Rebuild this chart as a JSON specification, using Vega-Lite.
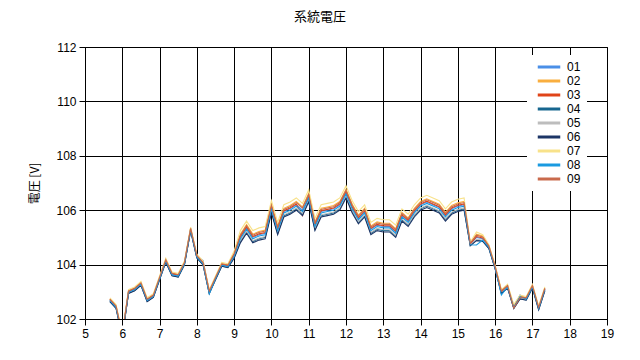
{
  "$schema": "https://vega.github.io/schema/vega-lite/v6.json",
  "autosize": {"type": "none"},
  "padding": {"left": 85, "top": 47, "right": 33, "bottom": 41},
  "width": 522,
  "height": 272,
  "background": "white",
  "title": {"text": "系統電圧", "font": "Noto Sans CJK JP", "fontSize": 13, "fontWeight": "normal", "color": "black", "dx": -26, "offset": 17},
  "config": {
    "view": {"stroke": "black", "strokeWidth": 1},
    "axis": {"gridColor": "black", "gridOpacity": 1, "gridWidth": 1, "domainColor": "black", "tickColor": "black", "tickSize": 6, "labelColor": "black", "labelFont": "Liberation Sans", "labelFontSize": 12, "titleFont": "Noto Sans CJK JP", "titleFontSize": 12, "titleFontWeight": "normal", "titleColor": "black"}
  },
  "data": {"values": [
    {"t":5.667,"01":102.7,"02":102.74,"03":102.71,"04":102.65,"05":102.66,"06":102.64,"07":102.78,"08":102.68,"09":102.73},
    {"t":5.833,"01":102.45,"02":102.49,"03":102.46,"04":102.4,"05":102.41,"06":102.39,"07":102.53,"08":102.43,"09":102.48},
    {"t":6.0,"01":101.4,"02":101.44,"03":101.41,"04":101.35,"05":101.36,"06":101.34,"07":101.48,"08":101.38,"09":101.43},
    {"t":6.167,"01":103.0,"02":103.04,"03":103.01,"04":102.95,"05":102.96,"06":102.94,"07":103.08,"08":102.98,"09":103.03},
    {"t":6.333,"01":103.1,"02":103.14,"03":103.11,"04":103.05,"05":103.06,"06":103.04,"07":103.18,"08":103.08,"09":103.13},
    {"t":6.5,"01":103.3,"02":103.34,"03":103.31,"04":103.25,"05":103.26,"06":103.24,"07":103.38,"08":103.28,"09":103.33},
    {"t":6.667,"01":102.7,"02":102.74,"03":102.71,"04":102.65,"05":102.66,"06":102.64,"07":102.78,"08":102.68,"09":102.73},
    {"t":6.833,"01":102.85,"02":102.89,"03":102.86,"04":102.8,"05":102.81,"06":102.79,"07":102.93,"08":102.83,"09":102.88},
    {"t":7.0,"01":103.5,"02":103.54,"03":103.51,"04":103.45,"05":103.46,"06":103.44,"07":103.58,"08":103.48,"09":103.53},
    {"t":7.167,"01":104.15,"02":104.19,"03":104.16,"04":104.1,"05":104.11,"06":104.09,"07":104.23,"08":104.13,"09":104.18},
    {"t":7.333,"01":103.65,"02":103.69,"03":103.66,"04":103.6,"05":103.61,"06":103.59,"07":103.73,"08":103.63,"09":103.68},
    {"t":7.5,"01":103.6,"02":103.64,"03":103.61,"04":103.55,"05":103.56,"06":103.54,"07":103.68,"08":103.58,"09":103.63},
    {"t":7.667,"01":104.05,"02":104.09,"03":104.06,"04":104.0,"05":104.01,"06":103.99,"07":104.13,"08":104.03,"09":104.08},
    {"t":7.833,"01":105.3,"02":105.34,"03":105.31,"04":105.25,"05":105.26,"06":105.24,"07":105.38,"08":105.28,"09":105.33},
    {"t":8.0,"01":104.3,"02":104.34,"03":104.31,"04":104.25,"05":104.26,"06":104.24,"07":104.38,"08":104.28,"09":104.33},
    {"t":8.167,"01":104.15,"02":104.09,"03":104.06,"04":104.0,"05":104.01,"06":103.99,"07":104.13,"08":104.03,"09":104.08},
    {"t":8.333,"01":103.0,"02":103.04,"03":103.01,"04":102.95,"05":102.96,"06":102.94,"07":103.08,"08":102.92,"09":103.03},
    {"t":8.5,"01":103.5,"02":103.54,"03":103.51,"04":103.45,"05":103.46,"06":103.44,"07":103.58,"08":103.48,"09":103.53},
    {"t":8.667,"01":104.0,"02":104.04,"03":104.01,"04":103.95,"05":103.96,"06":103.94,"07":104.08,"08":103.98,"09":104.03},
    {"t":8.833,"01":103.95,"02":103.99,"03":103.96,"04":103.9,"05":103.91,"06":103.89,"07":104.03,"08":103.93,"09":103.98},
    {"t":9.0,"01":104.35,"02":104.42,"03":104.37,"04":104.26,"05":104.28,"06":104.23,"07":104.5,"08":104.32,"09":104.4},
    {"t":9.167,"01":105.0,"02":105.12,"03":105.03,"04":104.85,"05":104.88,"06":104.8,"07":105.25,"08":104.95,"09":105.08},
    {"t":9.333,"01":105.35,"02":105.47,"03":105.38,"04":105.2,"05":105.23,"06":105.15,"07":105.6,"08":105.3,"09":105.43},
    {"t":9.5,"01":105.0,"02":105.12,"03":105.03,"04":104.85,"05":104.88,"06":104.8,"07":105.25,"08":104.95,"09":105.08},
    {"t":9.667,"01":105.1,"02":105.22,"03":105.13,"04":104.95,"05":104.98,"06":104.9,"07":105.35,"08":105.05,"09":105.18},
    {"t":9.833,"01":105.15,"02":105.27,"03":105.18,"04":105.0,"05":105.03,"06":104.95,"07":105.4,"08":105.1,"09":105.23},
    {"t":10.0,"01":106.1,"02":106.22,"03":106.13,"04":105.95,"05":105.98,"06":105.9,"07":106.35,"08":106.05,"09":106.18},
    {"t":10.167,"01":105.3,"02":105.42,"03":105.33,"04":105.15,"05":105.18,"06":105.1,"07":105.55,"08":105.25,"09":105.38},
    {"t":10.333,"01":105.95,"02":106.07,"03":105.98,"04":105.8,"05":105.83,"06":105.75,"07":106.2,"08":105.9,"09":106.03},
    {"t":10.5,"01":106.05,"02":106.17,"03":106.08,"04":105.9,"05":105.93,"06":105.85,"07":106.3,"08":106.0,"09":106.13},
    {"t":10.667,"01":106.2,"02":106.32,"03":106.23,"04":106.05,"05":106.08,"06":106.0,"07":106.45,"08":106.15,"09":106.28},
    {"t":10.833,"01":106.0,"02":106.12,"03":105.8,"04":105.85,"05":105.88,"06":105.8,"07":106.25,"08":105.95,"09":106.08},
    {"t":11.0,"01":106.5,"02":106.62,"03":106.53,"04":106.35,"05":106.38,"06":106.3,"07":106.75,"08":106.45,"09":106.58},
    {"t":11.167,"01":105.45,"02":105.57,"03":105.48,"04":105.3,"05":105.33,"06":105.25,"07":105.7,"08":105.4,"09":105.53},
    {"t":11.333,"01":105.95,"02":106.07,"03":105.98,"04":105.8,"05":105.83,"06":105.75,"07":106.2,"08":105.9,"09":106.03},
    {"t":11.5,"01":106.0,"02":106.12,"03":106.03,"04":105.85,"05":105.88,"06":105.8,"07":106.25,"08":105.95,"09":106.08},
    {"t":11.667,"01":106.05,"02":106.17,"03":106.08,"04":105.9,"05":105.93,"06":105.85,"07":106.3,"08":106.0,"09":106.13},
    {"t":11.833,"01":106.2,"02":106.32,"03":106.23,"04":106.05,"05":106.08,"06":106.0,"07":106.45,"08":106.15,"09":106.28},
    {"t":12.0,"01":106.65,"02":106.77,"03":106.68,"04":106.5,"05":106.53,"06":106.45,"07":106.9,"08":106.6,"09":106.73},
    {"t":12.167,"01":106.1,"02":106.22,"03":106.13,"04":105.95,"05":105.98,"06":105.9,"07":106.35,"08":106.05,"09":106.18},
    {"t":12.333,"01":105.7,"02":105.82,"03":105.73,"04":105.55,"05":105.58,"06":105.5,"07":105.95,"08":105.65,"09":105.78},
    {"t":12.5,"01":105.95,"02":106.07,"03":105.98,"04":105.8,"05":105.83,"06":105.75,"07":106.2,"08":105.9,"09":106.03},
    {"t":12.667,"01":105.3,"02":105.42,"03":105.33,"04":105.15,"05":105.18,"06":105.1,"07":105.55,"08":105.25,"09":105.38},
    {"t":12.833,"01":105.45,"02":105.57,"03":105.48,"04":105.3,"05":105.33,"06":105.25,"07":105.7,"08":105.4,"09":105.53},
    {"t":13.0,"01":105.4,"02":105.52,"03":105.43,"04":105.25,"05":105.28,"06":105.2,"07":105.65,"08":105.35,"09":105.48},
    {"t":13.167,"01":105.4,"02":105.52,"03":105.43,"04":105.25,"05":105.28,"06":105.2,"07":105.65,"08":105.35,"09":105.48},
    {"t":13.333,"01":105.2,"02":105.32,"03":105.23,"04":105.05,"05":105.08,"06":105.0,"07":105.45,"08":105.15,"09":105.28},
    {"t":13.5,"01":105.8,"02":105.92,"03":105.83,"04":105.65,"05":105.68,"06":105.6,"07":106.05,"08":105.75,"09":105.88},
    {"t":13.667,"01":105.6,"02":105.72,"03":105.63,"04":105.45,"05":105.48,"06":105.4,"07":105.85,"08":105.55,"09":105.68},
    {"t":13.833,"01":105.95,"02":106.07,"03":105.98,"04":105.8,"05":105.83,"06":105.75,"07":106.2,"08":105.9,"09":106.03},
    {"t":14.0,"01":106.2,"02":106.32,"03":106.23,"04":106.05,"05":106.08,"06":106.0,"07":106.45,"08":106.15,"09":106.28},
    {"t":14.167,"01":106.3,"02":106.42,"03":106.33,"04":106.15,"05":106.18,"06":106.1,"07":106.55,"08":106.25,"09":106.38},
    {"t":14.333,"01":106.2,"02":106.32,"03":106.23,"04":106.05,"05":106.08,"06":106.0,"07":106.45,"08":106.15,"09":106.28},
    {"t":14.5,"01":106.1,"02":106.22,"03":106.13,"04":105.95,"05":105.98,"06":105.9,"07":106.35,"08":106.05,"09":106.18},
    {"t":14.667,"01":105.8,"02":105.92,"03":105.83,"04":105.65,"05":105.68,"06":105.6,"07":106.05,"08":105.75,"09":105.88},
    {"t":14.833,"01":106.05,"02":106.17,"03":106.08,"04":105.9,"05":105.93,"06":105.85,"07":106.3,"08":106.0,"09":106.13},
    {"t":15.0,"01":106.15,"02":106.27,"03":106.18,"04":106.0,"05":106.03,"06":105.95,"07":106.4,"08":106.1,"09":106.23},
    {"t":15.167,"01":106.2,"02":106.32,"03":106.23,"04":106.05,"05":106.08,"06":106.0,"07":106.45,"08":106.15,"09":106.28},
    {"t":15.333,"01":104.75,"02":104.79,"03":104.76,"04":104.7,"05":104.71,"06":104.69,"07":104.83,"08":104.73,"09":104.78},
    {"t":15.5,"01":105.0,"02":105.12,"03":105.03,"04":104.9,"05":104.92,"06":104.88,"07":105.2,"08":104.72,"09":105.08},
    {"t":15.667,"01":104.95,"02":105.05,"03":104.98,"04":104.88,"05":104.9,"06":104.85,"07":105.1,"08":104.9,"09":105.02},
    {"t":15.833,"01":104.65,"02":104.69,"03":104.66,"04":104.6,"05":104.61,"06":104.59,"07":104.73,"08":104.63,"09":104.68},
    {"t":16.0,"01":103.9,"02":103.94,"03":103.91,"04":103.85,"05":103.86,"06":103.84,"07":103.98,"08":103.88,"09":103.93},
    {"t":16.167,"01":103.0,"02":103.04,"03":103.01,"04":102.95,"05":102.96,"06":102.94,"07":103.08,"08":102.88,"09":103.03},
    {"t":16.333,"01":103.2,"02":103.24,"03":103.21,"04":103.15,"05":103.16,"06":103.14,"07":103.28,"08":103.18,"09":103.23},
    {"t":16.5,"01":102.45,"02":102.49,"03":102.42,"04":102.4,"05":102.41,"06":102.39,"07":102.53,"08":102.43,"09":102.4},
    {"t":16.667,"01":102.88,"02":102.84,"03":102.81,"04":102.75,"05":102.76,"06":102.74,"07":102.88,"08":102.82,"09":102.78},
    {"t":16.833,"01":102.75,"02":102.79,"03":102.76,"04":102.7,"05":102.71,"06":102.69,"07":102.83,"08":102.73,"09":102.78},
    {"t":17.0,"01":103.2,"02":103.24,"03":103.21,"04":103.15,"05":103.16,"06":103.14,"07":103.28,"08":103.18,"09":103.23},
    {"t":17.167,"01":102.4,"02":102.44,"03":102.41,"04":102.35,"05":102.36,"06":102.34,"07":102.48,"08":102.38,"09":102.43},
    {"t":17.333,"01":103.1,"02":103.14,"03":103.11,"04":103.05,"05":103.06,"06":103.04,"07":103.18,"08":103.08,"09":103.13}
  ]},
  "transform": [{"fold": ["01","02","03","04","05","06","07","08","09"], "as": ["s", "v"]}],
  "mark": {"type": "line", "strokeWidth": 1.1, "clip": true},
  "encoding": {
    "x": {"field": "t", "type": "quantitative", "scale": {"domain": [5, 19], "nice": false, "zero": false},
      "axis": {"title": null, "values": [5,6,7,8,9,10,11,12,13,14,15,16,17,18,19], "labelPadding": 3, "labelFlush": false}},
    "y": {"field": "v", "type": "quantitative", "scale": {"domain": [102, 112], "nice": false, "zero": false},
      "axis": {"title": "電圧 [V]", "values": [102,104,106,108,110,112], "labelPadding": 3, "titlePadding": 14}},
    "color": {"field": "s", "type": "nominal",
      "scale": {"domain": ["01","02","03","04","05","06","07","08","09"],
        "range": ["#4a8fe7","#f9ae3f","#e04418","#17668f","#bdbdbd","#1d3566","#f8e28a","#1a9ae0","#c96a4c"]},
      "legend": {"title": null, "orient": "none", "legendX": 442, "legendY": 8, "fillColor": "white", "padding": 6,
        "symbolType": "M-2.5,0H2.5", "symbolSize": 81, "symbolStrokeWidth": 3, "symbolOffset": 10,
        "labelOffset": 12, "labelFont": "Liberation Sans", "labelFontSize": 12, "labelColor": "black", "rowPadding": 2}}
  }
}
